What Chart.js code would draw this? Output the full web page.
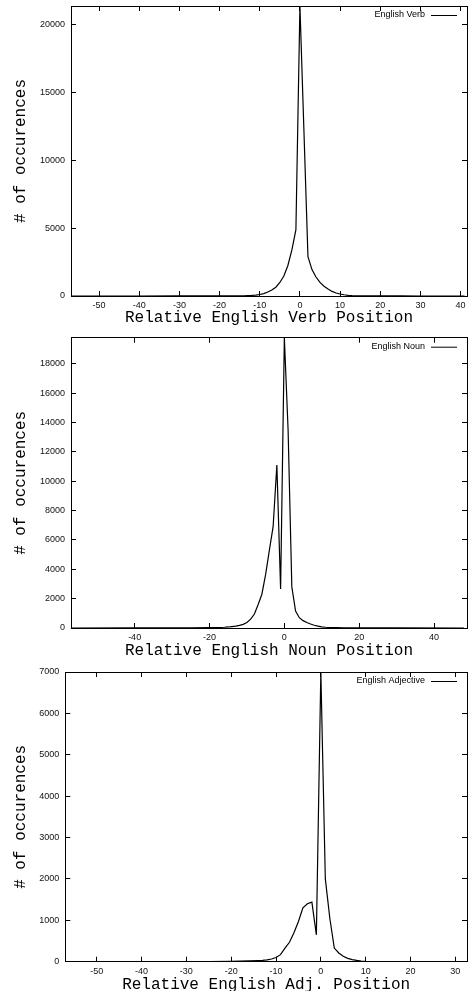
<!DOCTYPE html>
<html><head><meta charset="utf-8">
<script src="https://cdn.jsdelivr.net/npm/chart.js@4.4.1/dist/chart.umd.min.js"></script>
<style>
html,body{margin:0;padding:0;background:#fff;width:468px;height:991px;overflow:hidden;position:relative}
canvas{position:absolute;left:0}
</style></head><body>
<canvas id="c1" width="468" height="340" style="top:0px"></canvas>
<canvas id="c2" width="468" height="340" style="top:330px"></canvas>
<canvas id="c3" width="468" height="340" style="top:660px"></canvas>
<script>
// ---- Data: English Verb ----
const verbPositions = [-57,-40,-30,-25,-20,-18,-16,-14,-13,-12,-11,-10,-9,-8,-7,-6,-5,-4,-3,-2,-1,0,1,2,3,4,5,6,7,8,9,10,11,12,13,14,16,18,20,25,30,41];
const verbCounts    = [0,1,2,3,5,8,12,20,30,45,70,110,180,290,440,650,1000,1480,2250,3400,4900,21400,12150,2900,1950,1400,1000,720,520,340,220,150,90,50,30,18,10,6,4,2,1,0];
const verbXTicks = [-50,-40,-30,-20,-10,0,10,20,30,40];
const verbYTicks = [0,5000,10000,15000,20000];

// ---- Data: English Noun ----
const nounPositions = [-57,-40,-30,-25,-20,-18,-16,-15,-14,-13,-12,-11,-10,-9,-8,-7,-6,-5,-4,-3,-2,-1,0,1,2,3,4,5,6,7,8,9,10,11,12,14,16,20,30,48];
const nounCounts    = [0,2,5,10,20,30,50,70,100,130,180,250,380,600,950,1600,2300,3650,5300,6900,11100,2650,19770,13500,2800,1150,700,500,370,270,190,130,80,50,35,20,12,6,2,0];
const nounXTicks = [-40,-20,0,20,40];
const nounYTicks = [0,2000,4000,6000,8000,10000,12000,14000,16000,18000];

// ---- Data: English Adjective ----
const adjPositions = [-57,-40,-30,-25,-20,-18,-16,-14,-13,-12,-11,-10,-9,-8,-7,-6,-5,-4,-3,-2,-1,0,1,2,3,4,5,6,7,8,9,10,12,15,20,32];
const adjCounts    = [0,1,2,4,8,12,18,25,30,45,65,100,170,330,470,700,970,1300,1400,1440,650,7000,2000,1050,330,210,130,80,50,30,15,8,4,2,1,0];
const adjXTicks = [-50,-40,-30,-20,-10,0,10,20,30];
const adjYTicks = [0,1000,2000,3000,4000,5000,6000,7000];

const TICK_FONT = {family:'"Liberation Sans", Arial, Helvetica, sans-serif', size:9, lineHeight:1.2};
const TITLE_FONT = {family:'"Courier New", "Liberation Mono", monospace', size:16, lineHeight:1};

const keyPlugin = {
  id: 'gpKey',
  afterDatasetsDraw(chart) {
    const {ctx, chartArea} = chart;
    const ds = chart.data.datasets[0];
    const y = chartArea.top + 9;
    ctx.save();
    ctx.font = '9px "Liberation Sans", Arial, sans-serif';
    ctx.fillStyle = '#000'; ctx.textAlign = 'right'; ctx.textBaseline = 'middle';
    ctx.fillText(ds.label, chartArea.right - 42, y);
    ctx.strokeStyle = '#000'; ctx.lineWidth = 1;
    ctx.beginPath(); ctx.moveTo(chartArea.right - 36, y + 0.5); ctx.lineTo(chartArea.right - 10, y + 0.5); ctx.stroke();
    ctx.restore();
  }
};

function tickSetter(list) {
  return s => { s.ticks = list.map(v => ({value: v})); };
}
function fixSize(prop, val) {
  return s => { s[prop] = val; s.paddingLeft = 0; s.paddingRight = 0; s.paddingTop = 0; s.paddingBottom = 0; };
}
const plain = v => String(v);

function makeChart(id, o) {
  const pts = o.positions.map((p, i) => ({x: p, y: o.counts[i]}));
  const gridOpts = {drawOnChartArea:false, drawTicks:true, tickLength:-5, color:'#000', tickWidth:1};
  const borderOpts = {display:true, color:'#000', width:1};
  return new Chart(document.getElementById(id), {
    type: 'line',
    data: { datasets: [{ label: o.label, data: pts, borderColor:'#000', borderWidth:1.2, pointRadius:0, tension:0, fill:false }] },
    options: {
      responsive:false, animation:false, devicePixelRatio:1,
      layout: { padding: {top:o.padTop, right:1, left:0, bottom:0} },
      plugins: { legend:{display:false}, tooltip:{enabled:false} },
      scales: {
        x: { type:'linear', position:'bottom', min:o.xMin, max:o.xMax,
             afterBuildTicks: tickSetter(o.xTicks), afterFit: fixSize('height', o.xAxisHeight),
             grid: gridOpts, border: borderOpts,
             ticks: {font:TICK_FONT, color:'#111', padding:9.3, maxRotation:0, autoSkip:false, callback:plain},
             title: {display:true, text:o.xTitle, font:TITLE_FONT, color:'#000', padding:{top:0, bottom:o.xTitlePad}} },
        x2: { type:'linear', position:'top', axis:'x', min:o.xMin, max:o.xMax,
             afterBuildTicks: tickSetter(o.xTicks), afterFit: fixSize('height', 0),
             grid: gridOpts, border: borderOpts, ticks: {display:false} },
        y: { type:'linear', position:'left', min:0, max:o.yMax,
             afterBuildTicks: tickSetter(o.yTicks), afterFit: fixSize('width', o.yAxisWidth),
             grid: gridOpts, border: borderOpts,
             ticks: {font:TICK_FONT, color:'#111', padding:11, autoSkip:false, callback:plain},
             title: {display:true, text:'# of occurences', font:TITLE_FONT, color:'#000', padding:{top:o.yTitlePad, bottom:0}} },
        y2: { type:'linear', position:'right', axis:'y', min:0, max:o.yMax,
             afterBuildTicks: tickSetter(o.yTicks), afterFit: fixSize('width', 0),
             grid: gridOpts, border: borderOpts, ticks: {display:false} }
      }
    },
    plugins: [keyPlugin]
  });
}

makeChart('c1', {positions:verbPositions, counts:verbCounts, label:'English Verb',
  xTitle:'Relative English Verb Position', xMin:-57, xMax:41.6, yMax:21400,
  xTicks:verbXTicks, yTicks:verbYTicks, padTop:6, xAxisHeight:44, xTitlePad:14, yAxisWidth:71, yTitlePad:13});
makeChart('c2', {positions:nounPositions, counts:nounCounts, label:'English Noun',
  xTitle:'Relative English Noun Position', xMin:-57, xMax:48.8, yMax:19770,
  xTicks:nounXTicks, yTicks:nounYTicks, padTop:7.7, xAxisHeight:42, xTitlePad:11, yAxisWidth:71, yTitlePad:12.7});
makeChart('c3', {positions:adjPositions, counts:adjCounts, label:'English Adjective',
  xTitle:'Relative English Adj. Position', xMin:-57, xMax:32.6, yMax:7000,
  xTicks:adjXTicks, yTicks:adjYTicks, padTop:12, xAxisHeight:38.3, xTitlePad:7, yAxisWidth:65.3, yTitlePad:12.7});
</script>
</body></html>
